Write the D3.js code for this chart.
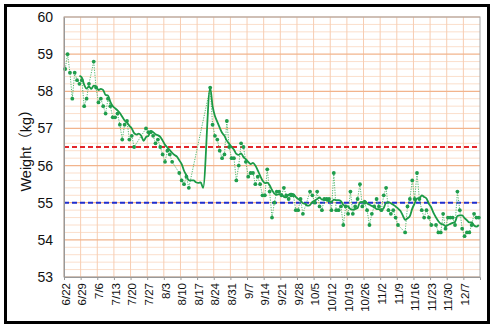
<!DOCTYPE html>
<html><head><meta charset="utf-8">
<script src="https://cdn.jsdelivr.net/npm/d3@7"></script>
<style>body{margin:0;background:#fff}svg{display:block}</style>
</head><body><svg id="c" width="494" height="328"></svg>
<script>
// ---- data ----
const dates = ["6/22","6/23","6/24","6/25","6/26","6/27","6/28","6/29","6/30","7/1","7/2","7/4","7/5","7/6","7/7","7/8","7/9","7/10","7/11","7/12","7/13","7/14","7/15","7/16","7/17","7/18","7/19","7/20","7/21",
"7/26","7/27","7/28","7/29","7/30","7/31","8/1","8/2","8/3","8/4","8/5","8/6","8/9","8/10","8/11","8/12","8/13",
"8/22","8/23","8/24","8/25","8/26","8/27","8/28","8/29","8/30","8/31","9/1","9/2","9/3","9/4","9/5","9/6","9/7","9/8","9/9","9/10","9/11","9/12","9/13","9/14","9/15","9/16","9/17","9/18","9/19","9/20","9/21","9/22","9/23","9/24","9/25","9/26","9/27","9/28","9/29","9/30",
"10/3","10/4","10/5","10/6","10/7","10/8","10/9","10/10","10/11","10/12","10/13","10/14","10/15","10/16","10/17","10/18","10/19","10/20","10/21","10/22","10/23","10/24","10/25","10/26","10/27","10/28","10/29","10/30","10/31",
"11/1","11/2","11/3","11/4","11/5","11/6","11/7","11/8","11/9","11/12","11/13","11/14","11/15","11/16","11/17","11/18","11/19","11/20","11/21","11/22","11/23","11/25","11/26","11/27","11/28","11/29","11/30",
"12/1","12/2","12/3","12/4","12/5","12/6","12/7","12/8","12/9","12/10","12/11","12/12","12/13"];
const weights = [58.6,59.0,58.5,57.8,58.5,58.3,58.2,58.3,57.6,57.8,58.2,58.8,58.1,57.7,57.8,57.6,57.4,57.8,57.6,57.3,57.3,57.4,57.1,56.7,57.1,57.2,56.7,56.8,56.5,
57.0,56.9,56.9,56.8,56.6,56.7,56.5,56.3,56.1,56.4,56.3,56.1,55.8,55.6,55.5,55.7,55.4,
58.1,57.1,56.8,56.7,56.4,56.2,56.3,57.2,56.5,56.2,56.2,55.6,56.0,56.6,56.5,56.1,55.7,55.8,55.8,55.5,55.7,55.5,55.2,55.2,55.9,55.3,54.6,55.0,55.3,55.3,55.2,55.4,55.2,55.1,55.2,55.2,54.8,54.8,55.1,54.7,
55.3,55.2,55.0,55.3,54.9,54.8,55.1,55.1,55.1,54.8,55.8,54.8,54.8,54.9,54.4,54.9,54.7,55.3,54.7,54.9,55.1,55.5,54.9,55.0,54.8,54.4,54.7,54.9,55.1,
54.9,54.8,55.2,55.4,54.8,54.7,54.8,54.6,54.4,54.2,54.9,55.1,55.6,55.1,55.8,55.1,54.8,54.6,54.8,54.6,54.4,54.4,54.2,54.2,54.7,54.3,54.6,
54.6,54.6,54.4,55.3,54.8,54.3,54.1,54.2,54.2,54.4,54.7,54.6,54.6];
const xTickLabels = ["6/22","6/29","7/6","7/13","7/20","7/27","8/3","8/10","8/17","8/24","8/31","9/7","9/14","9/21","9/28","10/5","10/12","10/19","10/26","11/2","11/9","11/16","11/23","11/30","12/7"];
const yTicks = [53,54,55,56,57,58,59,60];
const upperTarget = 56.5;
const lowerTarget = 55.0;
const maWindow = 7;

// ---- setup ----
const font = "'Liberation Sans', Arial, 'Noto Sans CJK JP', sans-serif";
const svg = d3.select("#c");
const L = 64, R = 480, T = 17, B = 277;
const parse = s => d3.timeParse("%Y/%m/%d")("2021/" + s);
const data = dates.map((s, i) => ({date: parse(s), v: weights[i]}));
const x = d3.scaleTime().domain([parse("6/22"), parse("12/14")]).range([L, R]);
const xc = dt => x(d3.timeHour.offset(dt, 12));
const y = d3.scaleLinear().domain([53, 60]).range([B, T]);

// outer frame
svg.append("rect").attr("x", 5.5).attr("y", 5.5).attr("width", 483).attr("height", 317)
  .attr("fill", "#fff").attr("stroke", "#000").attr("stroke-width", 3);

// grid
const g = svg.append("g");
const minor = d3.range(53, 60.001, 0.2).filter(v => Math.abs(v - Math.round(v)) > 0.01);
g.selectAll(".mn").data(minor).join("line")
  .attr("x1", L).attr("x2", R).attr("y1", d => y(d)).attr("y2", d => y(d))
  .attr("stroke", "#fbdfcc").attr("stroke-width", 1);
g.selectAll(".vx").data(xTickLabels.map(parse)).join("line")
  .attr("x1", d => x(d)).attr("x2", d => x(d)).attr("y1", T).attr("y2", B)
  .attr("stroke", "#f7cdb2").attr("stroke-width", 1);
g.selectAll(".mj").data(yTicks).join("line")
  .attr("x1", L).attr("x2", R).attr("y1", d => y(d)).attr("y2", d => y(d))
  .attr("stroke", "#f2b48c").attr("stroke-width", 1.2);

// plot border
svg.append("rect").attr("x", L).attr("y", T).attr("width", R - L).attr("height", B - T)
  .attr("fill", "none").attr("stroke", "#a6a6a6").attr("stroke-width", 1);

// target lines
[[upperTarget, "#e3262b"], [lowerTarget, "#1f2fd0"]].forEach(([v, c]) => {
  svg.append("line").attr("x1", L).attr("x2", R).attr("y1", y(v)).attr("y2", y(v))
    .attr("stroke", c).attr("stroke-width", 2).attr("stroke-dasharray", "5,3");
});

// daily dotted line
svg.append("path").datum(data)
  .attr("d", d3.line().x(d => xc(d.date)).y(d => y(d.v)))
  .attr("fill", "none").attr("stroke", "#52b96f").attr("stroke-width", 1)
  .attr("stroke-dasharray", "1.2,1.3");

// 7-day moving average (trendline)
const byDay = new Map(data.map(d => [+d.date, d.v]));
const days = d3.timeDay.range(parse("6/28"), parse("12/14"));
const ma = [];
days.forEach(day => {
  const vals = d3.timeDay.range(d3.timeDay.offset(day, -(maWindow - 1)), d3.timeDay.offset(day, 1))
    .map(dd => byDay.get(+dd)).filter(v => v !== undefined);
  if (vals.length) ma.push({date: day, v: d3.mean(vals)});
});
svg.append("path").datum(ma)
  .attr("d", d3.line().x(d => xc(d.date)).y(d => y(d.v)).curve(d3.curveMonotoneX))
  .attr("fill", "none").attr("stroke", "#1b9a46").attr("stroke-width", 1.8);

// dots
svg.selectAll(".dot").data(data).join("circle")
  .attr("cx", d => xc(d.date)).attr("cy", d => y(d.v)).attr("r", 1.9)
  .attr("fill", "#1f9d4c");

// axes
const ya = svg.append("g").attr("transform", `translate(${L},0)`)
  .call(d3.axisLeft(y).tickValues(yTicks).tickSize(0).tickPadding(11).tickFormat(d3.format("d")));
ya.select(".domain").attr("stroke", "#999");
ya.selectAll("text").attr("font-family", font).attr("font-size", 14).attr("fill", "#111");

const xa = svg.append("g").attr("transform", `translate(0,${B})`)
  .call(d3.axisBottom(x).tickValues(xTickLabels.map(parse)).tickSize(3).tickFormat((d, i) => xTickLabels[i]));
xa.select(".domain").attr("stroke", "#999");
xa.selectAll(".tick line").attr("stroke", "#999");
xa.selectAll("text").attr("font-family", font).attr("font-size", 11.5).attr("fill", "#111")
  .attr("transform", "rotate(-90)").attr("text-anchor", "end")
  .attr("x", -6).attr("y", 1.2).attr("dy", "0.35em");

// y title
svg.append("text").attr("transform", `translate(26,${(T + B) / 2}) rotate(-90)`)
  .attr("text-anchor", "middle").attr("dy", "0.35em")
  .attr("font-family", font).attr("font-size", 14.5).attr("fill", "#111")
  .text("Weight（kg）");
</script></body></html>
